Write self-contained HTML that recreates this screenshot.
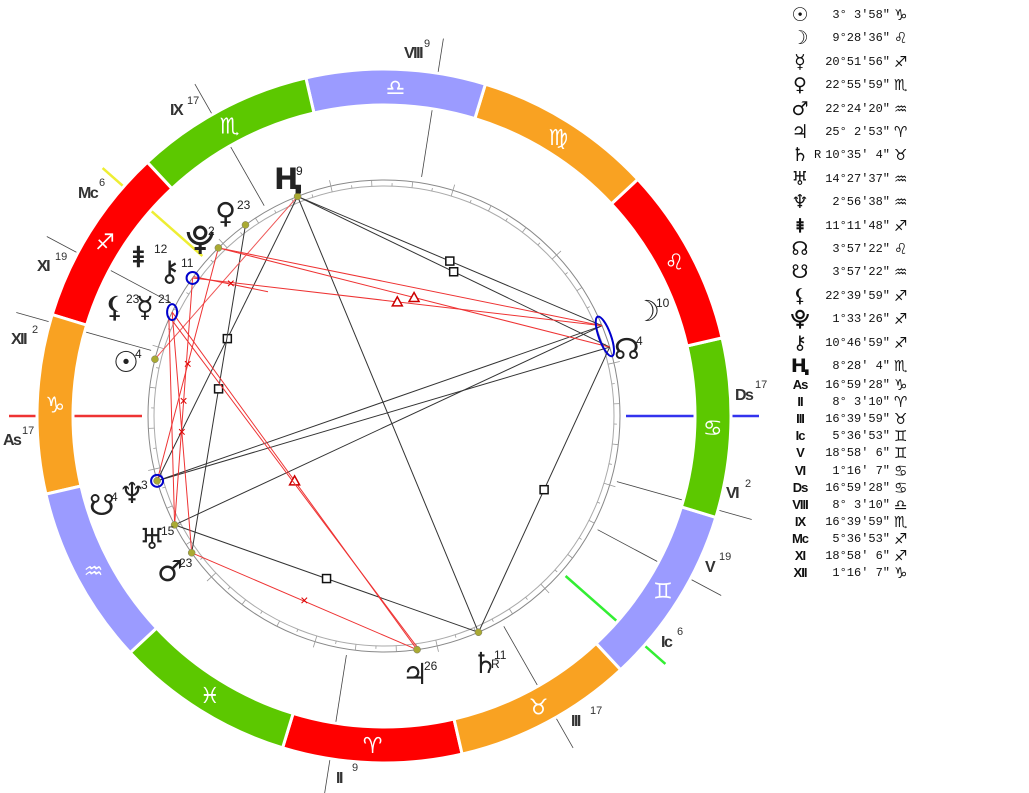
<!DOCTYPE html>
<html><head><meta charset="utf-8">
<style>
body{margin:0;background:#fff;width:1029px;height:793px;overflow:hidden;font-family:"Liberation Sans","DejaVu Sans",sans-serif}
svg{position:absolute;left:0;top:0}
.tb{position:absolute;left:788px;font-family:"Liberation Mono","DejaVu Sans Mono",monospace;font-size:12px;color:#111}
.tb div{position:absolute;white-space:pre;height:20px;line-height:20px}
.g{position:absolute;left:0;font-family:"DejaVu Sans",sans-serif;font-size:19px;font-weight:bold;width:24px;text-align:center}
.v{position:absolute;left:22px;width:80px;text-align:right}
.s{position:absolute;left:106px;font-family:"DejaVu Sans",sans-serif;font-size:15px;font-weight:bold}
</style></head><body>
<svg id="c" width="1029" height="793" xmlns="http://www.w3.org/2000/svg"></svg>
<div class="tb" id="tb"></div>
<script>
var cx=384,cy=416,ASC=286.99;
var s='';
function P(l,r){var t=(l-ASC+180)*Math.PI/180;return [cx+r*Math.cos(t),cy-r*Math.sin(t)];}
function line(a,b,c,w){s+='<line x1="'+a[0].toFixed(1)+'" y1="'+a[1].toFixed(1)+'" x2="'+b[0].toFixed(1)+'" y2="'+b[1].toFixed(1)+'" stroke="'+c+'" stroke-width="'+(w||1)+'"/>';}
function txt(x,y,t,sz,c,extra){s+='<text x="'+x+'" y="'+y+'" font-size="'+sz+'" fill="'+(c||'#222')+'" '+(extra||'')+'>'+t+'</text>';}
var houses=[[286.99,'As','#e33',3],[8.05,'',0],[46.67,'',0],[65.61,'Ic','#3e3',3],[78.97,'',0],[91.27,'',0],[106.99,'Ds','#33e',3],[188.05,'',0],[226.67,'',0],[245.61,'Mc','#ee3',3],[258.97,'',0],[271.27,'',0]];
houses.forEach(function(h){
  if(h[2]){line(P(h[0],242),P(h[0],375),h[2],2.5);}
  else line(P(h[0],242),P(h[0],382),'#444',0.8);
});
var cols=['#ff0000','#f9a222','#9b9bff','#5cc800'];
var glyph=['♈','♉','♊','♋','♌','♍','♎','♏','♐','♑','♒','♓'];
for(var k=0;k<12;k++){
  var a0=k*30,a1=a0+30,R1=347,R0=311;
  var p1=P(a0,R1),p2=P(a1,R1),p3=P(a1,R0),p4=P(a0,R0);
  s+='<path d="M'+p1+' A'+R1+' '+R1+' 0 0 0 '+p2+' L'+p3+' A'+R0+' '+R0+' 0 0 1 '+p4+' Z" fill="'+cols[k%4]+'" stroke="#fff" stroke-width="3"/>';
  var g=P(a0+15,329);
  txt(g[0].toFixed(1),(g[1]+8).toFixed(1),glyph[k]+'\uFE0E',22,'#fff','text-anchor="middle" font-family="DejaVu Sans" font-weight="bold"');
}
s+='<circle cx="'+cx+'" cy="'+cy+'" r="236" fill="none" stroke="#888" stroke-width="1"/>';
s+='<circle cx="'+cx+'" cy="'+cy+'" r="230" fill="none" stroke="#aaa" stroke-width="1"/>';
for(var d=0;d<360;d+=5){line(P(d,230),P(d,d%30==0?242:(d%10==0?236:233)),'#999',0.8);}
var pl={H:218.47,Ve:232.93,Ce:241.56,Pa:251.2,Ch:250.78,Li:262.67,Me:260.87,Su:273.07,Ne:302.94,SN:303.96,Ur:314.46,Ma:322.41,Ju:25.05,Sa:40.59,No:123.96,Mo:129.48};
function D(n){return P(pl[n],236);}
function mid(a,b){return [(a[0]+b[0])/2,(a[1]+b[1])/2];}
function sq(a,b){line(a,b,'#333',1);var m=mid(a,b);s+='<rect x="'+(m[0]-4)+'" y="'+(m[1]-4)+'" width="8" height="8" fill="#fff" stroke="#111" stroke-width="1.5"/>';}
function tri(a,b){line(a,b,'#e33',1);var m=mid(a,b);s+='<path d="M'+m[0]+' '+(m[1]-5)+' L'+(m[0]+5)+' '+(m[1]+4)+' L'+(m[0]-5)+' '+(m[1]+4)+' Z" fill="#fff" stroke="#c00" stroke-width="1.5"/>';}
function sx(a,b){line(a,b,'#e33',1);var m=mid(a,b);txt(m[0],m[1]+4,'×',14,'#d00','text-anchor="middle"');}
line(D('H'),D('Sa'),'#333',1);
sq(D('H'),D('Mo'));sq(D('H'),D('No'));sq(D('H'),D('Ne'));sq(D('Ve'),D('Ma'));
line(D('Ne'),D('Mo'),'#333',1);line(D('Ne'),D('No'),'#333',1);line(D('Ur'),D('Mo'),'#333',1);
sq(D('Ur'),D('Sa'));sq(D('Sa'),D('No'));
line(D('Su'),D('H'),'#e55',1);
tri(D('Ce'),D('No'));tri(D('Pa'),D('Mo'));line(D('Ce'),D('Mo'),'#e33',1);
sx(D('Ch'),P(240,170));
tri(D('Me'),D('Ju'));line([D('Li')[0]+2,D('Li')[1]],[D('Ju')[0]+2,D('Ju')[1]],'#e33',1);
sx(D('Ma'),D('Ju'));
sx(D('Ce'),D('Ne'));sx(D('Pa'),D('Ur'));sx(D('Me'),D('Ma'));line(D('Li'),D('Ur'),'#e33',1);
['H','Ve','Ce','Su','Ne','Ur','Ma','Ju','Sa'].forEach(function(n){var p=D(n);s+='<circle cx="'+p[0]+'" cy="'+p[1]+'" r="3.5" fill="#aa3" stroke="#776" stroke-width="0.5"/>';});
var pp=D('Pa'),mm=D('Me'),nn=D('Ne'),no=mid(D('Mo'),D('No'));
s+='<circle cx="'+pp[0]+'" cy="'+pp[1]+'" r="6" fill="none" stroke="#00c" stroke-width="2"/>';
s+='<ellipse cx="'+mm[0]+'" cy="'+mm[1]+'" rx="5" ry="8" fill="none" stroke="#00c" stroke-width="2"/>';
s+='<circle cx="'+nn[0]+'" cy="'+nn[1]+'" r="6" fill="none" stroke="#00c" stroke-width="2"/>';
s+='<ellipse cx="'+(no[0]-1)+'" cy="'+no[1]+'" rx="6" ry="21" transform="rotate(-20 '+(no[0]-1)+' '+no[1]+')" fill="none" stroke="#00c" stroke-width="2"/>';
var lab=[['Ⱨ',285,180,'9'],['♀',226,214,'23'],['⯓',197,240,'2'],['⯒',143,258,'12'],['⚷',170,272,'11'],['⚸',115,308,'23'],['☿',147,308,'21'],['☉',124,363,'4'],['♆',130,494,'3'],['☋',100,506,'4'],['♅',150,540,'15'],['♂',168,572,'23'],['♃',413,675,'26'],['♄',483,664,'11'],['☊',625,350,'4'],['☽',645,312,'10']];
lab.forEach(function(l){txt(l[1]-11,l[2]+9,l[0]+'\uFE0E',29,'#222','font-family="DejaVu Sans" font-weight="bold"');txt(l[1]+11,l[2]-5,l[3],12,'#222');});
txt(491,668,'R',12,'#222');
var hl=[['VIII',404,58,'9',424,47],['IX',170,115,'17',187,104],['Mc',78,198,'6',99,186],['XI',37,271,'19',55,260],['XII',11,344,'2',32,333],['As',3,445,'17',22,434],['II',336,783,'9',352,771],['III',571,726,'17',590,714],['Ic',661,647,'6',677,635],['V',705,572,'19',719,560],['VI',726,498,'2',745,487],['Ds',735,400,'17',755,388]];
hl.forEach(function(h){txt(h[1],h[2],h[0],16,'#333','font-weight="bold" letter-spacing="-1.5"');txt(h[4],h[5],h[3],11,'#333');});
document.getElementById('c').innerHTML=s;
var rows=[['☉','3° 3′58″','♑'],['☽','9°28′36″','♌'],['☿','20°51′56″','♐'],['♀','22°55′59″','♏'],['♂','22°24′20″','♒'],['♃','25° 2′53″','♈'],['♄','10°35′ 4″','♉','R'],['♅','14°27′37″','♒'],['♆','2°56′38″','♒'],['⯒','11°11′48″','♐'],['☊','3°57′22″','♌'],['☋','3°57′22″','♒'],['⚸','22°39′59″','♐'],['⯓','1°33′26″','♐'],['⚷','10°46′59″','♐'],['Ⱨ','8°28′ 4″','♏']];
var h2=[['As','16°59′28″','♑'],['II','8° 3′10″','♈'],['III','16°39′59″','♉'],['Ic','5°36′53″','♊'],['V','18°58′ 6″','♊'],['VI','1°16′ 7″','♋'],['Ds','16°59′28″','♋'],['VIII','8° 3′10″','♎'],['IX','16°39′59″','♏'],['Mc','5°36′53″','♐'],['XI','18°58′ 6″','♐'],['XII','1°16′ 7″','♑']];
var t='';
rows.forEach(function(r,i){var y=5+i*23.4;t+='<div style="top:'+y+'px;width:130px"><span class="g">'+r[0]+'\uFE0E</span>'+(r[3]?'<span style="position:absolute;left:26px">R</span>':'')+'<span class="v">'+r[1]+'</span><span class="s">'+r[2]+'\uFE0E</span></div>';});
h2.forEach(function(r,i){var y=375+i*17.1;t+='<div style="top:'+y+'px;width:130px"><span class="g" style="font-size:13px;font-family:\'Liberation Sans\';letter-spacing:-1px">'+r[0]+'</span><span class="v">'+r[1]+'</span><span class="s">'+r[2]+'\uFE0E</span></div>';});
document.getElementById('tb').innerHTML=t;
</script>
</body></html>
